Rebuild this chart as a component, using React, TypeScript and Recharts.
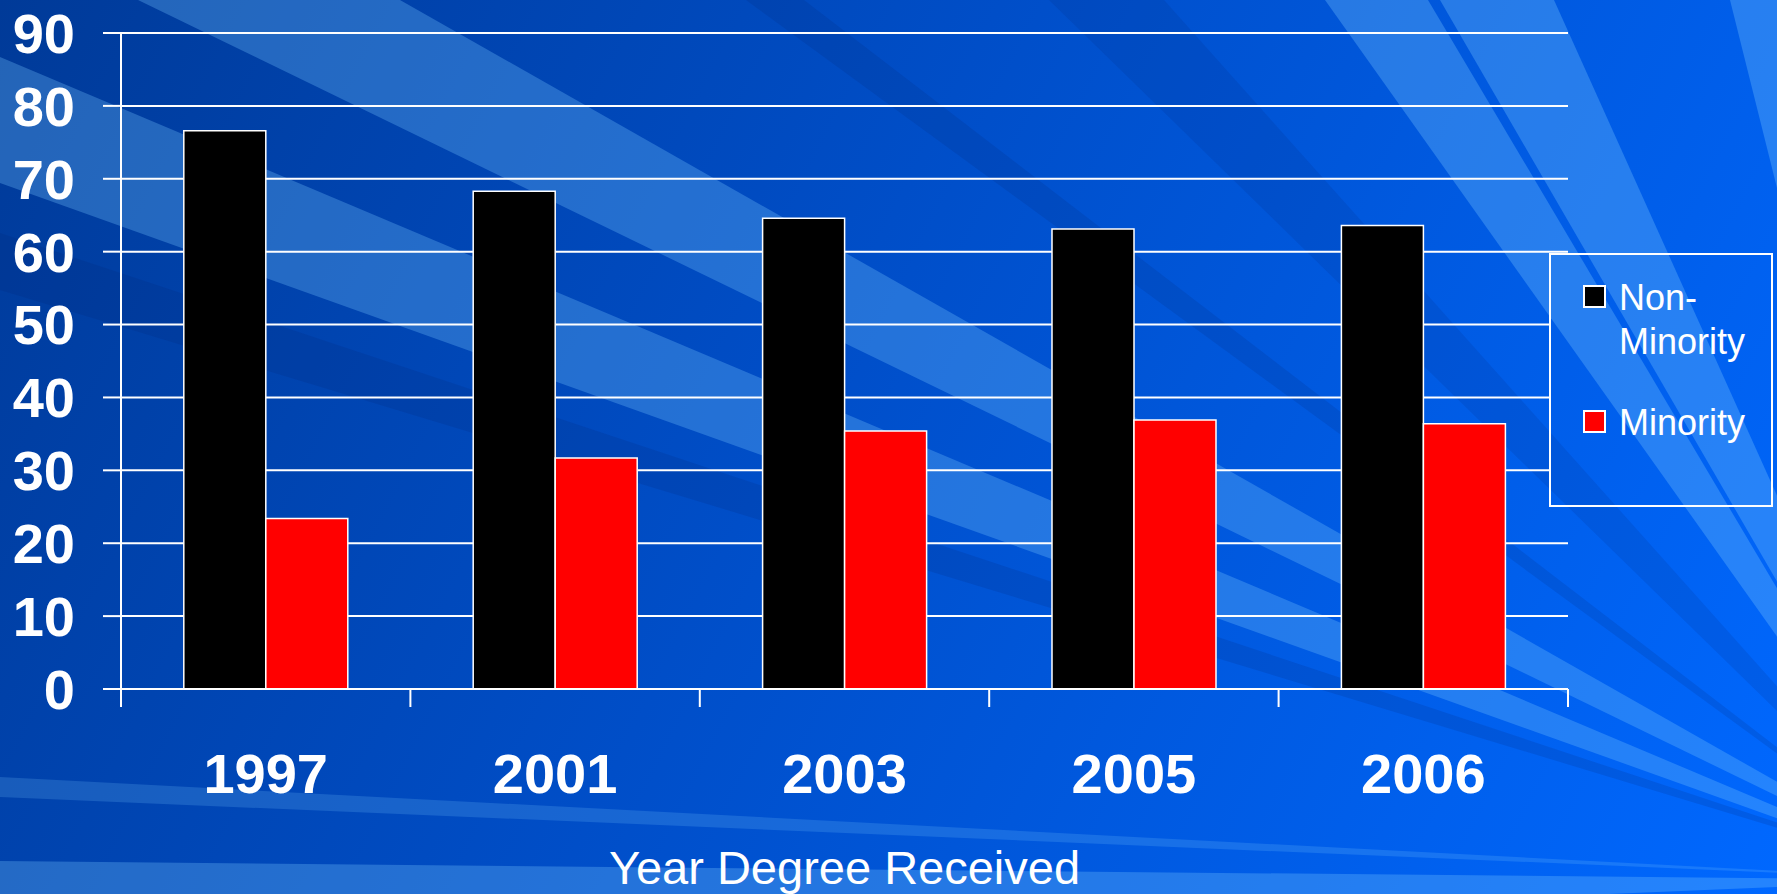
import React from 'react';
import { BarChart, Bar, XAxis, YAxis, CartesianGrid, Legend } from 'recharts';

const years = ['1997', '2001', '2003', '2005', '2006'];
const nonMinority = [76.6, 68.3, 64.6, 63.1, 63.6];
const minority = [23.4, 31.7, 35.4, 36.9, 36.4];
const yTicks = [0, 10, 20, 30, 40, 50, 60, 70, 80, 90];
const seriesOrder = ['nonMinority', 'minority'];

const data = years.map((year, i) => ({
  year,
  nonMinority: nonMinority[i],
  minority: minority[i],
}));

const W = 1777;
const H = 894;
const MARGIN = { top: 33, right: 209, bottom: 0, left: 0 };
const Y_AXIS_W = 121;
const X_AXIS_H = 205;
const PLOT_W = W - MARGIN.left - MARGIN.right - Y_AXIS_W;
const FONT = '"Liberation Sans", Arial, Helvetica, sans-serif';

const LEGEND_BOX = { left: 1549, top: 253, width: 224, height: 254, border: 2 };

// the slide backdrop: light and dark streaks that all run into one point past the bottom-right corner
const focus = { x: 1950, y: 880 };
type Ray = { from: [number, number]; to: [number, number]; light: boolean; alpha: number };
const rays: Ray[] = [
  { from: [138, 0], to: [400, 0], light: true, alpha: 0.3 },
  { from: [0, 57], to: [0, 183], light: true, alpha: 0.3 },
  { from: [1325, 0], to: [1428, 0], light: true, alpha: 0.32 },
  { from: [1440, 0], to: [1554, 0], light: true, alpha: 0.32 },
  { from: [1730, 0], to: [1830, 0], light: true, alpha: 0.32 },
  { from: [0, 777], to: [0, 797], light: true, alpha: 0.2 },
  { from: [0, 861], to: [0, 960], light: true, alpha: 0.3 },
  { from: [746, 0], to: [804, 0], light: false, alpha: 0.14 },
  { from: [1049, 0], to: [1164, 0], light: false, alpha: 0.12 },
  { from: [0, 233], to: [0, 290], light: false, alpha: 0.15 },
];

const rayPoints = (r: Ray) => {
  const far = (p: [number, number]) => [
    focus.x + (p[0] - focus.x) * 3,
    focus.y + (p[1] - focus.y) * 3,
  ];
  const a = far(r.from);
  const b = far(r.to);
  return `${focus.x},${focus.y} ${a[0]},${a[1]} ${b[0]},${b[1]}`;
};

const Backdrop = ({ id, left = 0, top = 0 }: { id: string; left?: number; top?: number }) => (
  <svg width={W} height={H} style={{ position: 'absolute', left: -left, top: -top, display: 'block' }}>
    <defs>
      <linearGradient id={id} gradientUnits="userSpaceOnUse" x1={0} y1={0} x2={W} y2={H}>
        <stop offset="0" stopColor="#003a98" />
        <stop offset="0.45" stopColor="#004ec8" />
        <stop offset="1" stopColor="#0068ff" />
      </linearGradient>
    </defs>
    <rect x={0} y={0} width={W} height={H} fill={`url(#${id})`} />
    {rays.map((r, i) => (
      <polygon
        key={i}
        points={rayPoints(r)}
        fill={r.light ? '#78c8ff' : '#00206a'}
        fillOpacity={r.alpha}
      />
    ))}
  </svg>
);

// year labels, plus the small tick marks that sit on the category boundaries
const YearTick = (props: any) => {
  const { x, y, payload, index, visibleTicksCount } = props;
  const band = PLOT_W / visibleTicksCount;
  const last = index === visibleTicksCount - 1;
  return (
    <g>
      <line x1={x - band / 2} x2={x - band / 2} y1={y} y2={y + 18} stroke="#fff" strokeWidth={2} />
      {last && (
        <line x1={x + band / 2} x2={x + band / 2} y1={y} y2={y + 18} stroke="#fff" strokeWidth={2} />
      )}
      <text
        x={x}
        y={y + 104}
        textAnchor="middle"
        fill="#fff"
        fontSize={56}
        fontWeight={700}
        fontFamily={FONT}
      >
        {payload.value}
      </text>
    </g>
  );
};

const LegendBox = (props: any) => {
  const items = [...(props.payload || [])].sort(
    (a: any, b: any) => seriesOrder.indexOf(a.dataKey) - seriesOrder.indexOf(b.dataKey)
  );
  const b = LEGEND_BOX.border;
  return (
    <div
      style={{
        position: 'relative',
        width: LEGEND_BOX.width,
        height: LEGEND_BOX.height,
        border: `${b}px solid #fff`,
        boxSizing: 'border-box',
        overflow: 'hidden',
        fontFamily: FONT,
      }}
    >
      <Backdrop id="legendBackdrop" left={LEGEND_BOX.left + b} top={LEGEND_BOX.top + b} />
      <div style={{ position: 'relative', padding: '20.5px 0 0 32px' }}>
        {items.map((entry: any, i: number) => (
          <div key={i} style={{ display: 'flex', alignItems: 'flex-start', marginBottom: 37 }}>
            <div
              style={{
                width: 23,
                height: 23,
                marginTop: 9.5,
                marginRight: 13,
                border: '2px solid #fff',
                boxSizing: 'border-box',
                background: entry.color,
                flexShrink: 0,
              }}
            />
            <div style={{ width: 150, fontSize: 36, lineHeight: '44px', color: '#fff' }}>{entry.value}</div>
          </div>
        ))}
      </div>
    </div>
  );
};

export default function App() {
  return (
    <div
      style={{
        position: 'absolute',
        left: 0,
        top: 0,
        width: W,
        height: H,
        overflow: 'hidden',
        fontFamily: FONT,
      }}
    >
      <Backdrop id="pageBackdrop" />
      <BarChart
        width={W}
        height={H}
        data={data}
        margin={MARGIN}
        barCategoryGap="21.7%"
        barGap={0}
        style={{ position: 'absolute', left: 0, top: 0 }}
      >
        <CartesianGrid vertical={false} stroke="#fff" strokeWidth={2} />
        <XAxis
          dataKey="year"
          height={X_AXIS_H}
          interval={0}
          tickLine={false}
          tickSize={0}
          tickMargin={0}
          axisLine={{ stroke: '#fff', strokeWidth: 2 }}
          tick={<YearTick />}
          label={{
            value: 'Year Degree Received',
            position: 'insideBottom',
            offset: 10,
            fill: '#fff',
            fontSize: 47,
            fontFamily: FONT,
          }}
        />
        <YAxis
          width={Y_AXIS_W}
          domain={[0, 90]}
          ticks={yTicks}
          interval={0}
          tickSize={18}
          tickMargin={28}
          tickLine={{ stroke: '#fff', strokeWidth: 2 }}
          axisLine={{ stroke: '#fff', strokeWidth: 2 }}
          tick={{ fill: '#fff', fontSize: 56, fontWeight: 700, fontFamily: FONT }}
        />
        <YAxis
          yAxisId="frame"
          orientation="right"
          width={0}
          domain={[0, 90]}
          tick={false}
          tickLine={false}
          axisLine={{ stroke: '#fff', strokeWidth: 2 }}
        />
        <Legend
          layout="vertical"
          align="center"
          verticalAlign="middle"
          content={<LegendBox />}
          wrapperStyle={{
            left: LEGEND_BOX.left,
            top: LEGEND_BOX.top,
            width: LEGEND_BOX.width,
            height: LEGEND_BOX.height,
          }}
        />
        <Bar
          dataKey="nonMinority"
          name="Non-Minority"
          fill="#000000"
          stroke="#ffffff"
          strokeWidth={1.5}
          isAnimationActive={false}
        />
        <Bar
          dataKey="minority"
          name="Minority"
          fill="#ff0000"
          stroke="#ffffff"
          strokeWidth={1.5}
          isAnimationActive={false}
        />
      </BarChart>
    </div>
  );
}
